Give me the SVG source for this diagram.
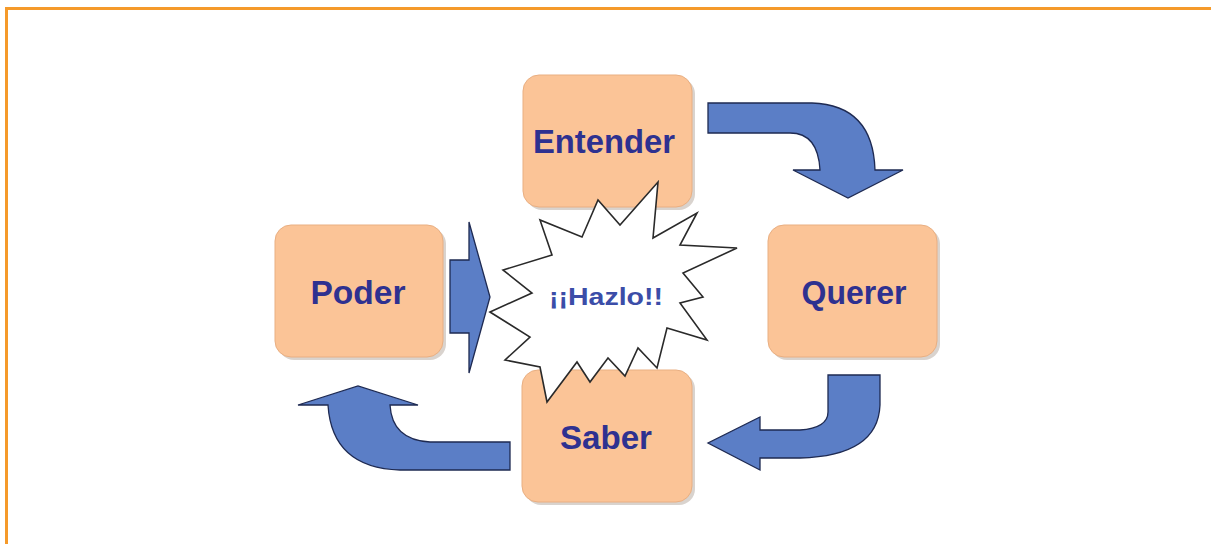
<svg xmlns="http://www.w3.org/2000/svg" width="1211" height="544" viewBox="0 0 1211 544">
<defs>
<style>
.frame{fill:none;stroke:#F59A2A;stroke-width:3}
.shadow{fill:#B9AFA6;opacity:0.55}
.box{fill:#FBC497;stroke:#E9AF82;stroke-width:1}
.lbl{font-family:"Liberation Sans",Arial,sans-serif;font-weight:bold;font-size:34px;fill:#2E3190;text-anchor:middle}
.arrow{fill:#5B7EC6;stroke:#1E2A52;stroke-width:1.3;stroke-linejoin:miter}
.star{fill:#FFFFFF;stroke:#2A2A2A;stroke-width:1.6;stroke-linejoin:miter}
.hz{font-family:"Liberation Sans",Arial,sans-serif;font-weight:bold;font-size:24px;fill:#3B4DA8;text-anchor:middle}
</style>
</defs>
<rect width="1211" height="544" fill="#FFFFFF"/>
<path class="frame" d="M6.5,544 L6.5,8.5 L1211,8.5"/>

<g id="connectors">
<path class="arrow" d="M708,103 L812,103 Q873,105 875,170 L903,170 L848,198 L793,170 L820,170 Q818,133 790,133 L708,133 Z"/>
<path class="arrow" d="M828,375 L880,375 L880,405 Q878,456 800,458 L760,458 L760,470 L708,443 L760,417 L760,430 L800,430 Q828,428 828,412 Z"/>
<path class="arrow" d="M510,442 L430,442 Q392,440 390,405 L418,405 L358,386 L298,405 L328,405 Q332,468 400,470 L510,470 Z"/>
<path class="arrow" d="M450,260 L469,260 L469,222 L490,297 L469,373 L469,333 L450,333 Z"/>
</g>

<g id="poder">
<rect class="shadow" x="278" y="228" width="168" height="132" rx="16"/>
<rect class="box" x="275" y="225" width="168" height="132" rx="16"/>
<text class="lbl" x="358" y="304" textLength="95" lengthAdjust="spacingAndGlyphs">Poder</text>
</g>
<g id="querer">
<rect class="shadow" x="771" y="228" width="169" height="132" rx="16"/>
<rect class="box" x="768" y="225" width="169" height="132" rx="16"/>
<text class="lbl" x="854" y="304" textLength="105" lengthAdjust="spacingAndGlyphs">Querer</text>
</g>
<g id="entender">
<rect class="shadow" x="526" y="78" width="169" height="132" rx="16"/>
<rect class="box" x="523" y="75" width="169" height="132" rx="16"/>
<text class="lbl" x="604" y="153" textLength="142" lengthAdjust="spacingAndGlyphs">Entender</text>
</g>
<g id="saber">
<rect class="shadow" x="525" y="373" width="170" height="132" rx="16"/>
<rect class="box" x="522" y="370" width="170" height="132" rx="16"/>
<text class="lbl" x="606" y="449" textLength="92" lengthAdjust="spacingAndGlyphs">Saber</text>
</g>

<g id="hazlo">
<polygon class="star" points="490,312 532,293 503,270 552,255 540,220 582,237 598,200 620,225 658,182 653,238 697,213 680,245 737,248 683,273 703,297 680,303 707,340 667,328 657,368 638,348 625,376 608,358 590,382 577,362 547,402 540,367 505,360 530,337"/>
<text class="hz" x="606" y="305" textLength="114" lengthAdjust="spacingAndGlyphs">¡¡Hazlo!!</text>
</g>
</svg>
